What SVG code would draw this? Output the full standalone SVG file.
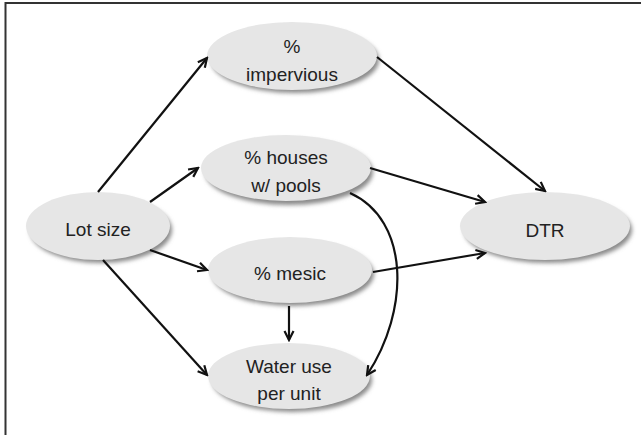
<svg xmlns="http://www.w3.org/2000/svg" width="641" height="435" viewBox="0 0 641 435">
<style>
.node ellipse.b{fill:#e6e6e6;}
.node ellipse.s{fill:#8a8a8a;filter:url(#blur);}
.node text{font-family:"Liberation Sans",Arial,sans-serif;font-size:19px;fill:#222;text-anchor:middle;}
.edges path{fill:none;stroke:#111;stroke-width:2.2;marker-end:url(#arr);}
</style>
<defs>
<filter id="blur" x="-20%" y="-20%" width="140%" height="140%"><feGaussianBlur stdDeviation="2"/></filter>
<marker id="arr" viewBox="0 0 12 12" refX="10" refY="6" markerWidth="12" markerHeight="12" markerUnits="userSpaceOnUse" orient="auto">
<path d="M1,1.5 L10,6 L1,10.5" fill="none" stroke="#111" stroke-width="2.2"/>
</marker>
</defs>
<rect width="641" height="435" fill="#fff"/>
<path d="M5.5,440 V3 H641" fill="none" stroke="#333" stroke-width="2"/>

<g id="n-impervious" class="node">
<ellipse class="s" cx="295" cy="60" rx="84" ry="33"/>
<ellipse class="b" cx="292" cy="56" rx="85" ry="34"/>
<text x="292" y="53">%</text>
<text x="292" y="81">impervious</text>
</g>
<g id="n-pools" class="node">
<ellipse class="s" cx="289" cy="172" rx="84" ry="33"/>
<ellipse class="b" cx="286" cy="168" rx="85" ry="33"/>
<text x="286" y="164">% houses</text>
<text x="286" y="192">w/ pools</text>
</g>
<g id="n-lot" class="node">
<ellipse class="s" cx="101" cy="230" rx="71" ry="33"/>
<ellipse class="b" cx="98" cy="226" rx="72" ry="34"/>
<text x="98" y="236">Lot size</text>
</g>
<g id="n-dtr" class="node">
<ellipse class="s" cx="548" cy="230" rx="84" ry="33"/>
<ellipse class="b" cx="545" cy="226" rx="85" ry="34"/>
<text x="545" y="237">DTR</text>
</g>
<g id="n-mesic" class="node">
<ellipse class="s" cx="293" cy="274" rx="81" ry="32"/>
<ellipse class="b" cx="290" cy="270" rx="82" ry="33"/>
<text x="290" y="280">% mesic</text>
</g>
<g id="n-water" class="node">
<ellipse class="s" cx="292" cy="380" rx="80" ry="32"/>
<ellipse class="b" cx="289" cy="376" rx="81" ry="33"/>
<text x="289" y="373">Water use</text>
<text x="289" y="400">per unit</text>
</g>

<g id="connectors" class="edges">
<path d="M98,192 L207,58"/>
<path d="M150,202 L198,168"/>
<path d="M150,250 L207,270"/>
<path d="M103,260 L207,375"/>
<path d="M377,57 L545,191"/>
<path d="M370,168 L485,202"/>
<path d="M373,272 L485,253"/>
<path d="M289,306 L289,340"/>
<path d="M350,193 C410,220 410,310 367,375"/>
</g>
</svg>
